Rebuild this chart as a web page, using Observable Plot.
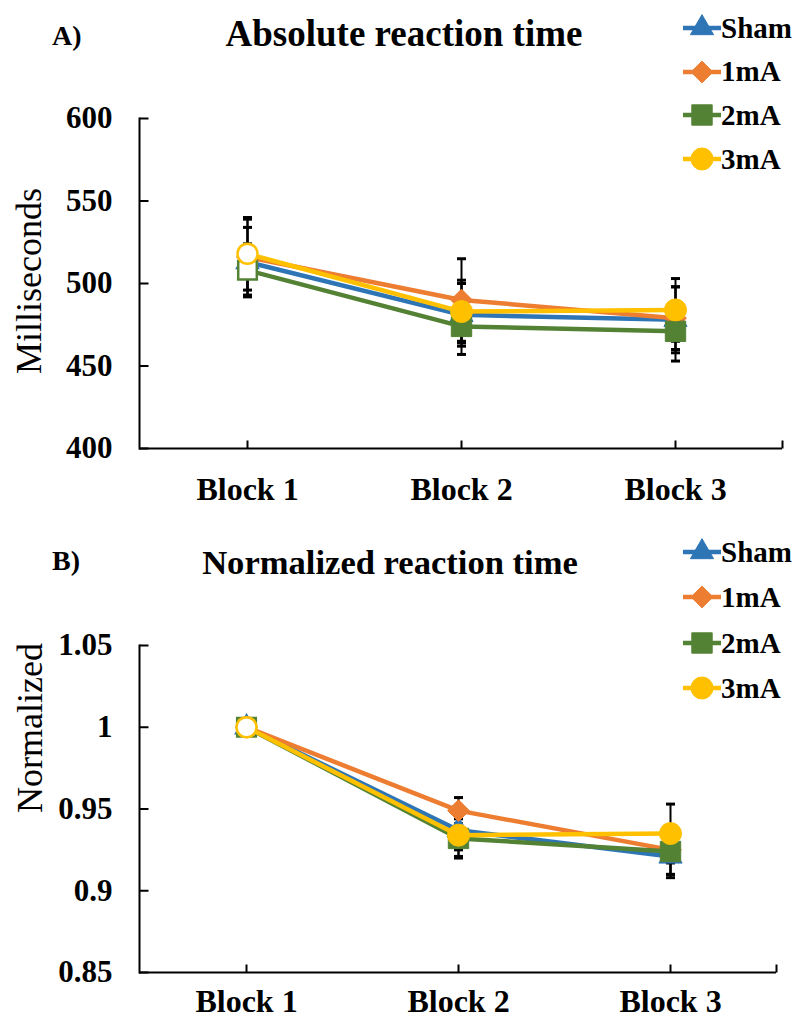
<!DOCTYPE html>
<html><head><meta charset="utf-8">
<script src="https://cdn.jsdelivr.net/npm/d3@7"></script>
<script src="https://cdn.jsdelivr.net/npm/@observablehq/plot@0.6"></script>
<style>
body{margin:0;background:#fff;}
#wrap{position:relative;width:798px;height:1024px;overflow:hidden;font-family:"Liberation Serif","Times New Roman",serif;color:#000;background:#fff;}
.abs{position:absolute;line-height:1;white-space:nowrap;}
.title{font-weight:bold;}
.tag{font-size:28px;font-weight:bold;}
.ylab{font-size:36px;transform:translate(-50%,-50%) rotate(-90deg);}
.leg{position:absolute;display:flex;align-items:center;height:32px;font-size:29px;font-weight:bold;line-height:1;white-space:nowrap;}
.leg svg{display:block;}
#pA,#pB{position:absolute;left:0;}
#pA{top:0;}#pB{top:520px;}
#pA svg text,#pB svg text{font-weight:bold;}
</style></head><body>
<div id="wrap">
  <div id="pA"></div>
  <div id="pB"></div>
  <div class="abs tag" style="left:52px;top:22px">A)</div>
  <div class="abs title" style="left:4px;width:800px;text-align:center;top:15px;font-size:37px">Absolute reaction time</div>
  <div class="abs ylab" style="left:29px;top:281px">Milliseconds</div>
  <div class="abs tag" style="left:52px;top:547px">B)</div>
  <div class="abs title" style="left:-10px;width:800px;text-align:center;top:545px;font-size:34.6px">Normalized reaction time</div>
  <div class="abs ylab" style="left:30px;top:728px">Normalized</div>
</div>
<script>
const blocks = ["Block 1", "Block 2", "Block 3"];
const seriesNames = ["Sham", "1mA", "2mA", "3mA"];
const seriesColors = ["#2E75B6", "#ED7D31", "#548235", "#FFC000"];
const seriesSymbols = ["triangle", "diamond2", "square", "circle"];

const absTicks = [400, 450, 500, 550, 600];
const normTicks = [0.85, 0.9, 0.95, 1, 1.05];

// Panel A: absolute reaction time (ms) and standard errors
const absSham = [513, 481, 478];
const absShamSE = [21, 19, 20];
const abs1mA = [516, 490, 479];
const abs1mASE = [23, 25, 19];
const abs2mA = [508, 474, 471];
const abs2mASE = [16, 17, 18];
const abs3mA = [518, 483, 484];
const abs3mASE = [22, 19, 19];

// Panel B: normalized reaction time and standard errors
const normSham = [1, 0.937, 0.921];
const normShamSE = [0, 0.012, 0.013];
const norm1mA = [1, 0.949, 0.925];
const norm1mASE = [0, 0.008, 0.015];
const norm2mA = [1, 0.932, 0.924];
const norm2mASE = [0, 0.012, 0.014];
const norm3mA = [1, 0.934, 0.935];
const norm3mASE = [0, 0.013, 0.018];

function buildRows(valueLists, seLists) {
  const rows = [];
  seriesNames.forEach((s, i) => {
    blocks.forEach((b, j) => {
      rows.push({series: s, block: b, value: valueLists[i][j], se: seLists[i][j]});
    });
  });
  return rows;
}

const absRows = buildRows([absSham, abs1mA, abs2mA, abs3mA], [absShamSE, abs1mASE, abs2mASE, abs3mASE]);
const normRows = buildRows([normSham, norm1mA, norm2mA, norm3mA], [normShamSE, norm1mASE, norm2mASE, norm3mASE]);

// marker radii (Plot r) chosen so shapes are ~22px across
const symbolR = {triangle: 8.6, diamond2: 9.8, square: 11.5, circle: 11};

const inTickY = {draw(ctx) { ctx.moveTo(0, 0); ctx.lineTo(9, 0); }};
const inTickX = {draw(ctx) { ctx.moveTo(0, 0); ctx.lineTo(0, -8); }};
const capSym = {draw(ctx) { ctx.moveTo(-4.5, 0); ctx.lineTo(4.5, 0); }};

function panel(rows, opt) {
  const marks = [];
  marks.push(Plot.axisY({ticks: opt.ticks, tickFormat: opt.fmt, tickSize: 0, tickPadding: 27, fontSize: 31, fontWeight: "bold", label: null}));
  marks.push(Plot.axisX({tickSize: 0, tickPadding: opt.xpad, fontSize: 32, fontWeight: "bold", label: null}));
  marks.push(Plot.frame({anchor: "left", stroke: "black", strokeWidth: 2}));
  marks.push(Plot.ruleY([opt.domain[0]], {stroke: "black", strokeWidth: 2}));
  marks.push(Plot.dot(opt.ticks, {y: d => d, frameAnchor: "left", symbol: inTickY, r: 5, fill: "none", stroke: "black", strokeWidth: 2}));
  marks.push(Plot.dot(blocks, {x: d => d, frameAnchor: "bottom", symbol: inTickX, r: 5, fill: "none", stroke: "black", strokeWidth: 2}));
  marks.push(Plot.dot([0], {frameAnchor: "bottom-right", symbol: inTickX, r: 5, fill: "none", stroke: "black", strokeWidth: 2}));
  const withSE = rows.filter(d => d.se > 0);
  marks.push(Plot.ruleX(withSE, {x: "block", y1: d => d.value - d.se, y2: d => d.value + d.se, stroke: "black", strokeWidth: 2}));
  marks.push(Plot.dot(withSE, {x: "block", y: d => d.value + d.se, symbol: capSym, r: 5, fill: "none", stroke: "black", strokeWidth: 3}));
  marks.push(Plot.dot(withSE, {x: "block", y: d => d.value - d.se, symbol: capSym, r: 5, fill: "none", stroke: "black", strokeWidth: 3}));
  seriesNames.forEach((s, i) => {
    const sr = rows.filter(d => d.series === s);
    const col = seriesColors[i];
    const sym = seriesSymbols[i];
    marks.push(Plot.line(sr, {x: "block", y: "value", stroke: col, strokeWidth: 4.5}));
    marks.push(Plot.dot(sr.filter(d => d.block === blocks[0]), {x: "block", y: "value", symbol: sym, r: symbolR[sym] - 1, fill: "white", stroke: col, strokeWidth: 2.5}));
    marks.push(Plot.dot(sr.filter(d => d.block !== blocks[0]), {x: "block", y: "value", symbol: sym, r: symbolR[sym], fill: col, stroke: col, strokeWidth: 1}));
  });
  return Plot.plot({
    width: 798,
    height: opt.height,
    marginLeft: 139,
    marginRight: opt.mr,
    marginTop: opt.mt,
    marginBottom: opt.mb,
    style: {fontFamily: "'Liberation Serif','Times New Roman',serif", color: "black", background: "transparent", overflow: "visible"},
    x: {type: "point", domain: blocks, padding: 0.5},
    y: {domain: opt.domain},
    marks
  });
}

document.getElementById("pA").append(panel(absRows, {ticks: absTicks, fmt: d => String(d), domain: [400, 600], height: 520, mt: 118, mb: 72, mr: 16, xpad: 29}));
document.getElementById("pB").append(panel(normRows, {ticks: normTicks, fmt: d => String(d), domain: [0.85, 1.05], height: 504, mt: 125, mb: 52, mr: 22, xpad: 17}));

function legend(centers) {
  const wrap = document.getElementById("wrap");
  seriesNames.forEach((name, i) => {
    const row = document.createElement("div");
    row.className = "leg";
    row.style.left = "683px";
    row.style.top = (centers[i] - 16) + "px";
    const svg = d3.create("svg").attr("width", 38).attr("height", 32);
    svg.append("line").attr("x1", 0).attr("x2", 38).attr("y1", 16).attr("y2", 16)
      .attr("stroke", seriesColors[i]).attr("stroke-width", 4.5);
    const symMap = {triangle: d3.symbolTriangle, diamond2: d3.symbolDiamond2, square: d3.symbolSquare, circle: d3.symbolCircle};
    const r = symbolR[seriesSymbols[i]];
    svg.append("path").attr("transform", "translate(19,16)")
      .attr("d", d3.symbol(symMap[seriesSymbols[i]], r * r * Math.PI)())
      .attr("fill", seriesColors[i]).attr("stroke", seriesColors[i]);
    row.append(svg.node());
    const t = document.createElement("span");
    t.textContent = name;
    row.append(t);
    wrap.append(row);
  });
}
legend([28, 71.5, 115, 159]);
legend([552, 597, 643, 688]);
</script>
</body></html>
